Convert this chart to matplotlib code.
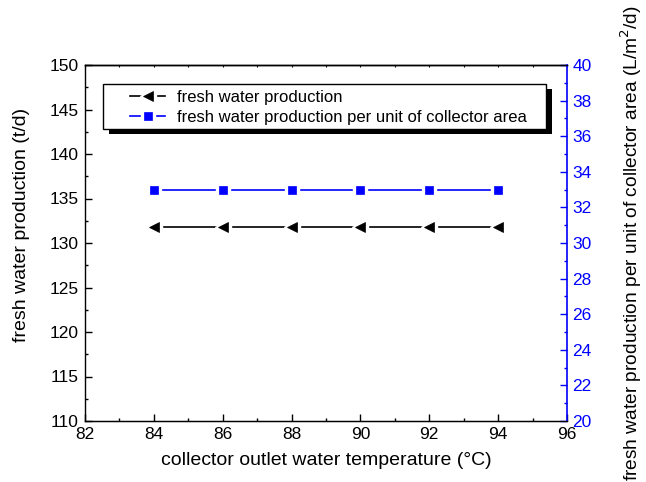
import matplotlib
matplotlib.use("Agg")
import matplotlib.pyplot as plt
from matplotlib.patches import Rectangle
from matplotlib.ticker import MultipleLocator

plt.rcParams['font.family'] = ['Liberation Sans', 'DejaVu Sans']

# datos
temperatura = [84, 86, 88, 90, 92, 94]
produccion = [131.85, 131.85, 131.85, 131.85, 131.85, 131.85]
produccion_area = [32.96, 32.96, 32.96, 32.96, 32.96, 32.96]
etiquetas = ['fresh water production',
             'fresh water production per unit of collector area']

azul = '#0000ff'
W, H = 646, 482

fig = plt.figure(figsize=(6.46, 4.82), dpi=100)
ax = fig.add_axes([85/W, 1-421/H, (567-85)/W, (421-65)/H])
ax2 = ax.twinx()


def serie(eje, x, y, color, marcador, ms):
    # linea, hueco blanco alrededor del marcador, y el marcador
    linea, = eje.plot(x, y, color=color, lw=1.2, zorder=2)
    hueco, = eje.plot(x, y, ls='none', marker=marcador, ms=ms + 4.5,
                      mfc='white', mec='white', zorder=3)
    punto, = eje.plot(x, y, ls='none', marker=marcador, ms=ms,
                      mfc=color, mec=color, mew=0.5, zorder=4)
    return (linea, hueco, punto)


h1 = serie(ax, temperatura, produccion, 'black', '<', 7)
h2 = serie(ax2, temperatura, produccion_area, azul, 's', 5.5)

ax.set_xlim(82, 96)
ax.set_ylim(110, 150)
ax2.set_ylim(20, 40)
ax.xaxis.set_major_locator(MultipleLocator(2))
ax.xaxis.set_minor_locator(MultipleLocator(1))
ax.yaxis.set_major_locator(MultipleLocator(5))
ax.yaxis.set_minor_locator(MultipleLocator(2.5))
ax2.yaxis.set_major_locator(MultipleLocator(2))
ax2.yaxis.set_minor_locator(MultipleLocator(1))

ax.tick_params(which='major', direction='in', length=5, width=1, labelsize=12.5, pad=4.5)
ax.tick_params(which='minor', direction='in', length=2.5, width=1)
ax.tick_params(axis='y', which='both', right=False)
ax2.tick_params(which='major', direction='in', length=5, width=1, colors=azul, labelsize=12.5, pad=4)
ax2.tick_params(which='minor', direction='in', length=2.5, width=1, colors=azul)

# ticks pequeños arriba
top = ax.secondary_xaxis('top')
top.xaxis.set_major_locator(MultipleLocator(1))
top.tick_params(direction='in', length=1.5, width=0.8, labeltop=False)
top.spines['top'].set_linewidth(1)

for s in ['left', 'bottom', 'top']:
    ax.spines[s].set_linewidth(1)
ax2.spines['right'].set_color(azul)
ax2.spines['right'].set_linewidth(1.2)
ax2.spines['left'].set_visible(False)
ax.spines['right'].set_visible(False)

ax.set_xlabel('collector outlet water temperature (°C)', fontsize=14, labelpad=7)
ax.set_ylabel('fresh water production (t/d)', fontsize=14)
ax.yaxis.set_label_coords(-0.114, 0.55)
ax2.set_ylabel('fresh water production per unit of collector area (L/m$^2$/d)',
               fontsize=13.8, labelpad=19)

# leyenda sin marco; el marco y la sombra se dibujan aparte
leg = fig.legend(handles=[h1, h2], labels=etiquetas, loc='upper left',
                 bbox_to_anchor=(130/W, 1-90/H), frameon=False,
                 borderpad=0, borderaxespad=0, fontsize=12, handlelength=2.1,
                 numpoints=1, handletextpad=0.72, labelspacing=0.28)
leg.set_zorder(6)

marco = Rectangle((103/W, 1-129/H), (546-103)/W, (129-84)/H,
                  transform=fig.transFigure, facecolor='white',
                  edgecolor='black', lw=1, zorder=5)
sombra = Rectangle((109/W, 1-134/H), (546-103)/W, (129-84)/H,
                   transform=fig.transFigure, facecolor='black',
                   edgecolor='none', zorder=4)
fig.patches.extend([sombra, marco])

fig.savefig('out.png', dpi=100)
